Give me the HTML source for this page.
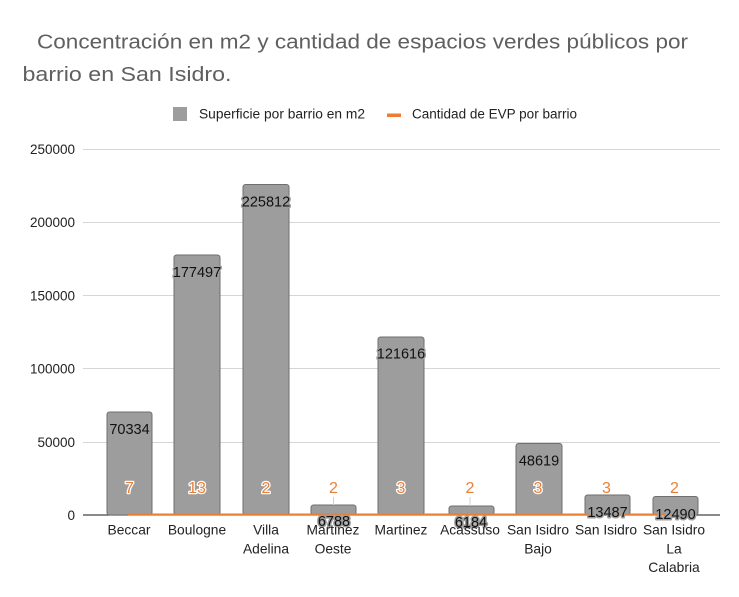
<!DOCTYPE html>
<html>
<head>
<meta charset="utf-8">
<style>
html,body{margin:0;padding:0;background:#fff;}
svg{display:block;}
text{font-family:"Liberation Sans",sans-serif;}
.val{font-size:14.5px;fill:#111;stroke:#9d9d9d;stroke-width:3;paint-order:stroke;stroke-linejoin:round;text-anchor:middle;}
.cnt{font-size:16px;fill:#e8803a;stroke:#fff;stroke-width:2.5;paint-order:stroke;stroke-linejoin:round;text-anchor:middle;}
.cat{font-size:13.8px;fill:#222;text-anchor:middle;}
.yl{font-size:13.5px;fill:#222;text-anchor:end;}
.bar{fill:#9d9d9d;stroke:#6e6e6e;stroke-width:1;}
</style>
</head>
<body>
<svg width="739" height="597" viewBox="0 0 739 597" xmlns="http://www.w3.org/2000/svg">
<rect width="739" height="597" fill="#fff"/>
<!-- Title -->
<text x="37" y="48.5" font-size="20.5" fill="#5f5f5f" textLength="651" lengthAdjust="spacingAndGlyphs">Concentración en m2 y cantidad de espacios verdes públicos por</text>
<text x="22.5" y="81" font-size="20.5" fill="#5f5f5f" textLength="209" lengthAdjust="spacingAndGlyphs">barrio en San Isidro.</text>
<!-- Legend -->
<rect x="173" y="107" width="14" height="14" fill="#9d9d9d"/>
<text x="199" y="118.5" font-size="13.5" fill="#222" textLength="166" lengthAdjust="spacingAndGlyphs">Superficie por barrio en m2</text>
<rect x="387" y="113.5" width="14" height="3.5" fill="#ed7d31"/>
<text x="412" y="118.5" font-size="13.5" fill="#222" textLength="165" lengthAdjust="spacingAndGlyphs">Cantidad de EVP por barrio</text>
<!-- Gridlines -->
<g stroke="#d6d6d6" stroke-width="1">
<line x1="83" y1="149.5" x2="720" y2="149.5"/>
<line x1="83" y1="222.5" x2="720" y2="222.5"/>
<line x1="83" y1="295.5" x2="720" y2="295.5"/>
<line x1="83" y1="368.5" x2="720" y2="368.5"/>
<line x1="83" y1="442.5" x2="720" y2="442.5"/>
</g>
<!-- Y labels -->
<text class="yl" x="75" y="154">250000</text>
<text class="yl" x="75" y="227">200000</text>
<text class="yl" x="75" y="300.5">150000</text>
<text class="yl" x="75" y="373.5">100000</text>
<text class="yl" x="75" y="447">50000</text>
<text class="yl" x="75" y="520">0</text>
<!-- Axis -->
<line x1="83" y1="515" x2="720" y2="515" stroke="#444" stroke-width="1.3"/>
<!-- Bars -->
<rect class="bar" x="107" y="412" width="45" height="103" rx="2.5"/>
<rect class="bar" x="174" y="255" width="46" height="260" rx="2.5"/>
<rect class="bar" x="243" y="184.5" width="46" height="330.5" rx="2.5"/>
<rect class="bar" x="311" y="505" width="45" height="10" rx="2.5"/>
<rect class="bar" x="378" y="337" width="46" height="178" rx="2.5"/>
<rect class="bar" x="449" y="506" width="45" height="9" rx="2.5"/>
<rect class="bar" x="516" y="443.5" width="46" height="71.5" rx="2.5"/>
<rect class="bar" x="585" y="495" width="45" height="20" rx="2.5"/>
<rect class="bar" x="653" y="496.5" width="45" height="18.5" rx="2.5"/>
<!-- Orange line -->
<line x1="128" y1="514.5" x2="676" y2="514.5" stroke="#ed7d31" stroke-width="2"/>
<!-- leader lines -->
<line x1="333.5" y1="497" x2="333.5" y2="505" stroke="#d0d0d0" stroke-width="1"/>
<line x1="470" y1="497" x2="470" y2="506" stroke="#d0d0d0" stroke-width="1"/>
<!-- Value labels -->
<text class="val" x="129.5" y="434">70334</text>
<text class="val" x="197" y="277">177497</text>
<text class="val" x="266" y="206.5">225812</text>
<text class="val" x="334" y="526">6788</text>
<text class="val" x="401" y="358.5">121616</text>
<text class="val" x="471" y="527">6184</text>
<text class="val" x="539" y="465.5">48619</text>
<text class="val" x="607.5" y="517">13487</text>
<text class="val" x="675.5" y="519">12490</text>
<!-- Count labels -->
<text class="cnt" x="129.5" y="493">7</text>
<text class="cnt" x="197" y="493">13</text>
<text class="cnt" x="266" y="493">2</text>
<text class="cnt" x="333.5" y="493">2</text>
<text class="cnt" x="401" y="493">3</text>
<text class="cnt" x="470" y="493">2</text>
<text class="cnt" x="538" y="493">3</text>
<text class="cnt" x="606.5" y="493">3</text>
<text class="cnt" x="674.5" y="493">2</text>
<!-- Category labels -->
<text class="cat" x="129" y="534.5">Beccar</text>
<text class="cat" x="197" y="534.5">Boulogne</text>
<text class="cat" x="266" y="534.5">Villa</text>
<text class="cat" x="266" y="553.5">Adelina</text>
<text class="cat" x="333" y="534.5">Martinez</text>
<text class="cat" x="333" y="553.5">Oeste</text>
<text class="cat" x="401" y="534.5">Martinez</text>
<text class="cat" x="470" y="534.5">Acassuso</text>
<text class="cat" x="538" y="534.5">San Isidro</text>
<text class="cat" x="538" y="553.5">Bajo</text>
<text class="cat" x="606" y="534.5">San Isidro</text>
<text class="cat" x="674" y="534.5">San Isidro</text>
<text class="cat" x="674" y="553.5">La</text>
<text class="cat" x="674" y="572">Calabria</text>
</svg>
</body>
</html>
